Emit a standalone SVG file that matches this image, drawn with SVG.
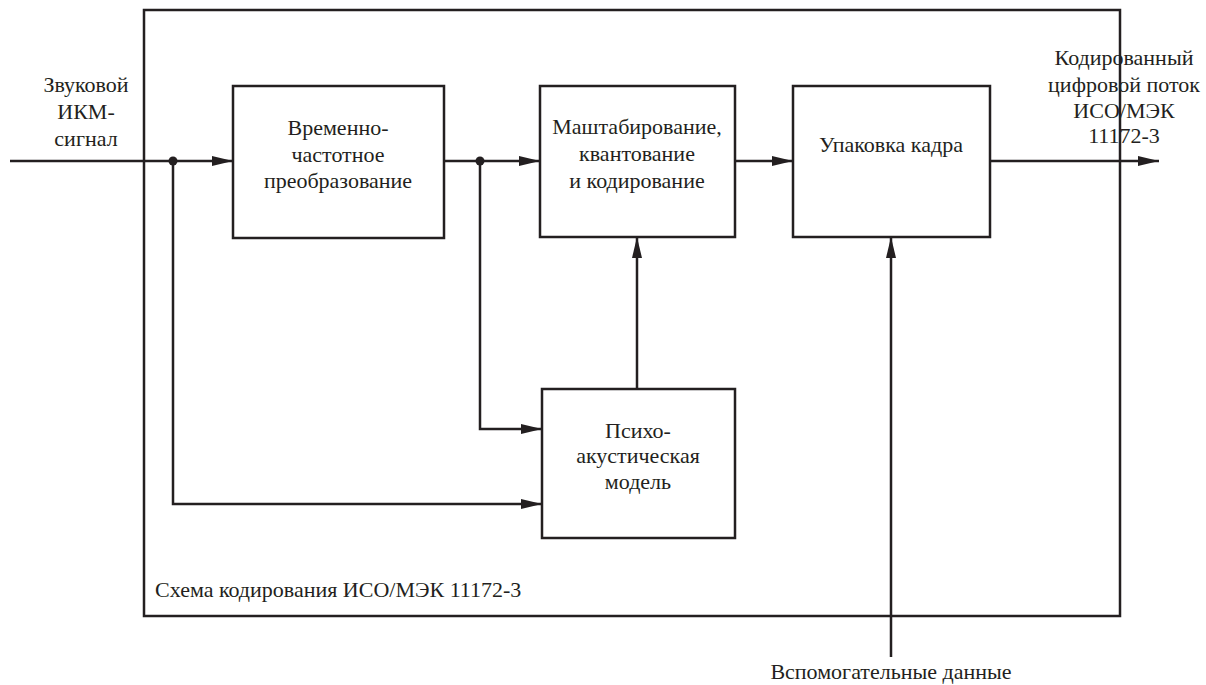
<svg xmlns="http://www.w3.org/2000/svg" width="1206" height="685" viewBox="0 0 1206 685" font-family="'Liberation Serif', 'Times New Roman', 'DejaVu Serif', serif">
<style>
.b{fill:none;stroke:#231f20;stroke-width:2.5}
.c{fill:none;stroke:#231f20;stroke-width:2.5}
.t{font-family:'Liberation Serif','Times New Roman','DejaVu Serif',serif;font-size:22px;fill:#231f20;text-anchor:middle}
.s{text-anchor:start}
</style>
<defs>
<marker id="a" markerUnits="userSpaceOnUse" markerWidth="22" markerHeight="12" refX="21" refY="6" orient="auto">
<path d="M0,1 L21,6 L0,11 Z" fill="#231f20"/>
</marker>
</defs>
<rect width="1206" height="685" fill="#fff"/>
<g id="frame">
<rect class="b" x="144" y="10" width="976" height="606"/>
<text class="t s" x="155" y="597">Схема кодирования ИСО/МЭК 11172-3</text>
</g>
<g id="tf">
<rect class="b" x="233" y="86" width="211" height="152"/>
<text class="t" x="338" y="135">Временно-</text>
<text class="t" x="338" y="162">частотное</text>
<text class="t" x="338" y="188">преобразование</text>
</g>
<g id="quant">
<rect class="b" x="540" y="86" width="195" height="151"/>
<text class="t" x="637" y="134">Маштабирование,</text>
<text class="t" x="637" y="161">квантование</text>
<text class="t" x="637" y="188">и кодирование</text>
</g>
<g id="pack">
<rect class="b" x="793" y="86" width="197" height="151"/>
<text class="t" x="891" y="152">Упаковка кадра</text>
</g>
<g id="psy">
<rect class="b" x="542" y="389" width="193" height="149"/>
<text class="t" x="638" y="438">Психо-</text>
<text class="t" x="638" y="463">акустическая</text>
<text class="t" x="638" y="489">модель</text>
</g>
<g id="labels">
<text class="t" x="86" y="92">Звуковой</text>
<text class="t" x="86" y="119">ИКМ-</text>
<text class="t" x="86" y="146">сигнал</text>
<text class="t" x="1124" y="65">Кодированный</text>
<text class="t" x="1124" y="92">цифровой поток</text>
<text class="t" x="1124" y="118">ИСО/МЭК</text>
<text class="t" x="1124" y="143">11172-3</text>
<text class="t" x="891" y="679">Вспомогательные данные</text>
</g>
<g id="connectors">
<line class="c" x1="10" y1="161" x2="233" y2="161" marker-end="url(#a)"/>
<line class="c" x1="444" y1="161" x2="540" y2="161" marker-end="url(#a)"/>
<line class="c" x1="735" y1="161" x2="793" y2="161" marker-end="url(#a)"/>
<line class="c" x1="990" y1="161" x2="1159" y2="161" marker-end="url(#a)"/>
<polyline class="c" points="173,161 173,504 542,504" marker-end="url(#a)"/>
<polyline class="c" points="480,161 480,429 542,429" marker-end="url(#a)"/>
<line class="c" x1="637" y1="389" x2="637" y2="237" marker-end="url(#a)"/>
<line class="c" x1="891" y1="657" x2="891" y2="237" marker-end="url(#a)"/>
<circle cx="173" cy="161" r="4.5" fill="#231f20"/>
<circle cx="480" cy="161" r="4.5" fill="#231f20"/>
</g>
</svg>
